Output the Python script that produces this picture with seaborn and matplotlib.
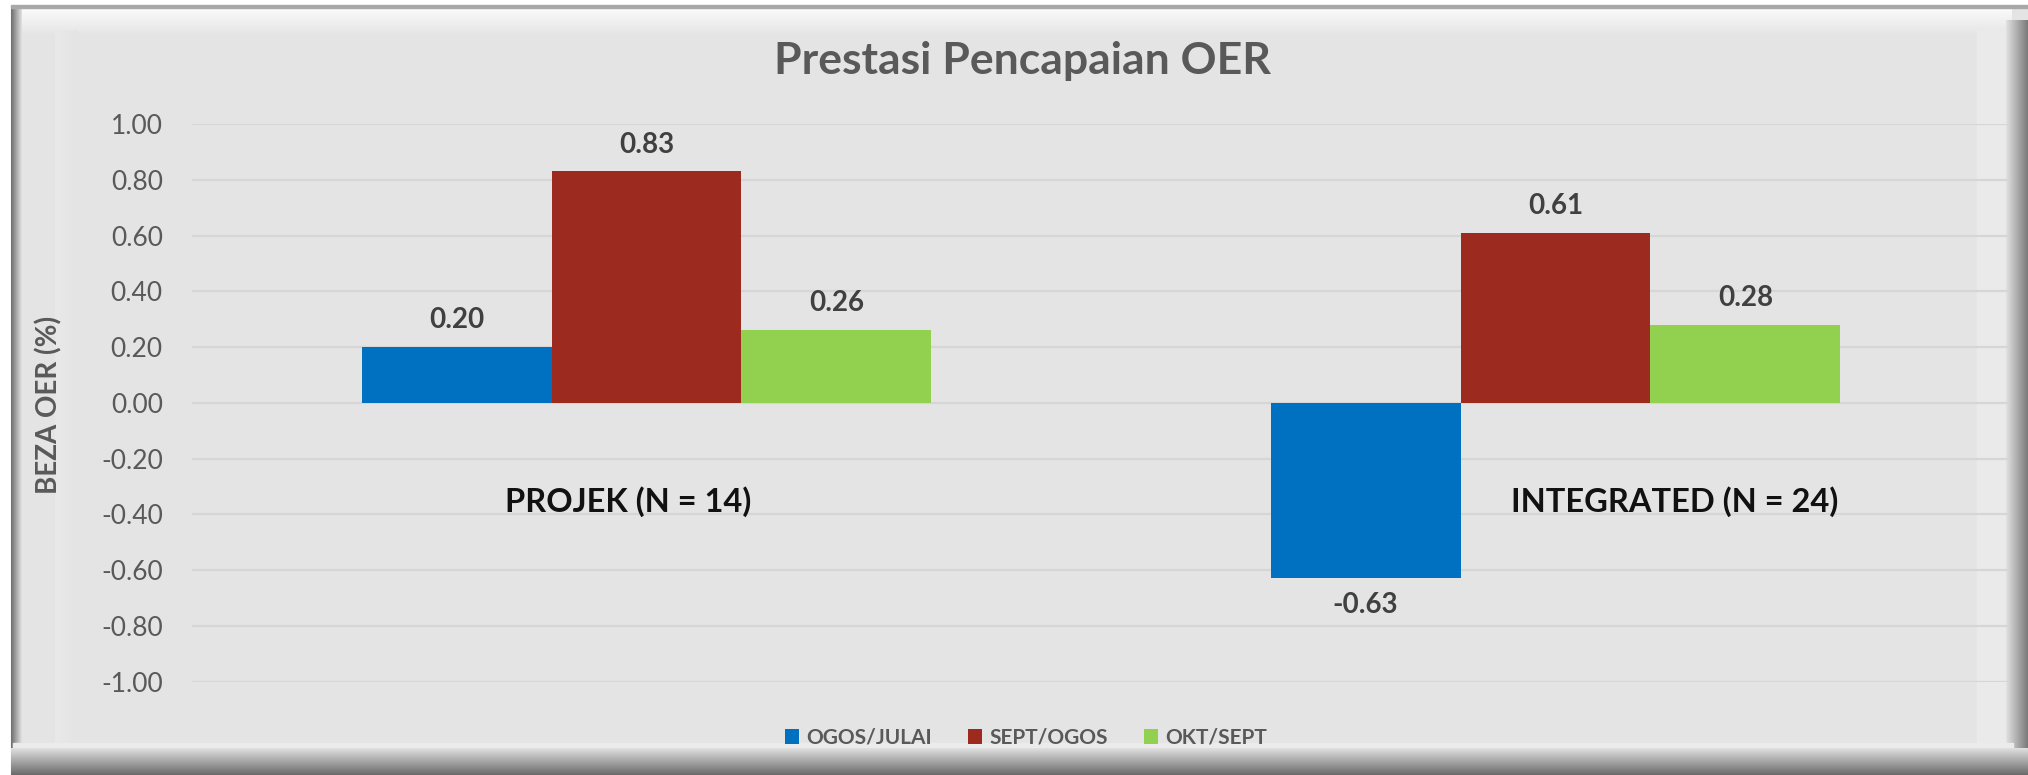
import numpy as np
import pandas as pd
import matplotlib
matplotlib.use("Agg")
import matplotlib.pyplot as plt
import seaborn as sns
from matplotlib.patches import Patch, Rectangle
from matplotlib.colors import to_rgb
from matplotlib.ticker import FuncFormatter

# ---------------- data ----------------
categories = ["PROJEK (N = 14)", "INTEGRATED (N = 24)"]
series = ["OGOS/JULAI", "SEPT/OGOS", "OKT/SEPT"]
ogos_julai = [0.20, -0.63]
sept_ogos = [0.83, 0.61]
okt_sept = [0.26, 0.28]
y_ticks = [-1.00, -0.80, -0.60, -0.40, -0.20, 0.00, 0.20, 0.40, 0.60, 0.80, 1.00]
title = "Prestasi Pencapaian OER"
y_label = "BEZA OER (%)"
colors = ["#0070C0", "#9C2A1F", "#92D050"]

# ---------------- style ----------------
sns.set_theme(style="white")
plt.rcParams["font.family"] = ["Lato", "DejaVu Sans"]
plt.rcParams["axes.unicode_minus"] = False

W, H = 2028, 775
fig = plt.figure(figsize=(W / 100, H / 100), dpi=100)
fig.patch.set_facecolor("white")

# ---------------- background frame (pixel coords) ----------------
bg = fig.add_axes([0, 0, 1, 1], zorder=-5)
bg.set_xlim(0, W)
bg.set_ylim(H, 0)
bg.axis("off")
BASE = "#E4E4E4"


def grad(x0, x1, y0, y1, c0, c1, vertical=True):
    n = 64
    a = np.array(to_rgb(c0))
    b = np.array(to_rgb(c1))
    t = np.linspace(0, 1, n)[:, None]
    g = a * (1 - t) + b * t
    if vertical:
        img = g[:, None, :]
    else:
        img = g[None, :, :]
    bg.imshow(img, extent=(x0, x1, y1, y0), aspect="auto", interpolation="bilinear", zorder=2)


bg.add_patch(Rectangle((11, 6), W - 11, H - 6, color=BASE, zorder=1))
# top highlight
grad(13, 2012, 8, 36, "#FBFBFB", BASE, vertical=True)
bg.add_patch(Rectangle((11, 5), W - 11, 2.5, color="#A8A8A8", zorder=3))
# left edge
grad(11, 22, 8, 748, "#6E6E6E", "#E2E2E2", vertical=False)
grad(55, 78, 30, 748, "#E9E9E9", BASE, vertical=False)
# right edge
bg.add_patch(Rectangle((1977, 30), 30, 716, color="#EAEAEA", zorder=2))
grad(2006, W, 20, 748, "#E2E2E2", "#7A7A7A", vertical=False)
# bottom edge
bg.add_patch(Rectangle((13, 743), 2000, 7, color="#EBEBEB", zorder=2))
grad(11, W, 748, H, "#E0E0E0", "#6A6A6A", vertical=True)

# ---------------- chart ----------------
df = pd.DataFrame({
    "category": categories * 3,
    "series": np.repeat(series, len(categories)),
    "value": ogos_julai + sept_ogos + okt_sept,
})

ax_left, ax_right = 192, 2010
ax_top, ax_bot = 124, 681.6
ax = fig.add_axes([ax_left / W, (H - ax_bot) / H, (ax_right - ax_left) / W, (ax_bot - ax_top) / H])
ax.set_facecolor("none")

sns.barplot(data=df, x="category", y="value", hue="series", order=categories,
            hue_order=series, palette=colors, width=0.627, saturation=1,
            errorbar=None, legend=False, linewidth=0, ax=ax)

ax.set_xlim(-0.5, 1.5)
ax.set_ylim(-1, 1)
ax.set_yticks(y_ticks)
ax.yaxis.set_major_formatter(FuncFormatter(lambda v, p: f"{v:.2f}"))
ax.yaxis.grid(True, color="#D6D6D6", linewidth=1.6)
ax.xaxis.grid(False)
ax.set_axisbelow(True)
for s in ax.spines.values():
    s.set_visible(False)
ax.tick_params(axis="y", length=0, pad=21, labelsize=19, labelcolor="#595959")
ax.tick_params(axis="x", length=0, labelbottom=False)
ax.set_xlabel("")
ax.set_ylabel(y_label, fontsize=20, fontweight="bold", color="#595959")
ax.yaxis.set_label_coords((62 - ax_left) / (ax_right - ax_left), 0.496)

for cont in ax.containers:
    ax.bar_label(cont, fmt="%.2f", padding=10, fontsize=20, fontweight="bold", color="#404040")

# category labels (placed as in the original)
cat_label_x = [-0.0204, 1.1315]
for xpos, lab in zip(cat_label_x, categories):
    ax.text(xpos, -0.356, lab, ha="center", va="center", fontsize=23.5,
            fontweight="bold", color="#111111")

fig.text(1022 / W, 1 - 61 / H, title, ha="center", va="center", fontsize=32,
         fontweight="bold", color="#595959")

handles = [Patch(facecolor=c, edgecolor="none") for c in colors]
fig.legend(handles, series, loc="center", bbox_to_anchor=(1026 / W, 1 - 738 / H), ncol=3,
           frameon=False, prop={"size": 15, "weight": "bold"}, labelcolor="#595959",
           handlelength=0.7, handleheight=0.7, handletextpad=0.35, columnspacing=1.7)

fig.savefig("out.png", dpi=100, facecolor=fig.get_facecolor())
